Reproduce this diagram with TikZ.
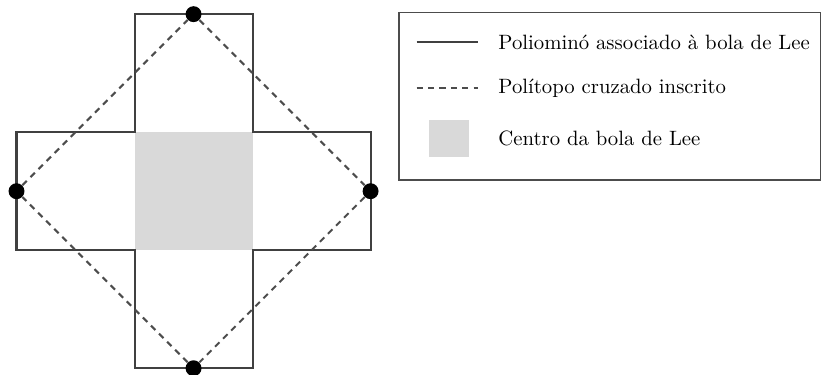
\documentclass[tikz,border=0pt]{standalone}
\usepackage{amsmath,amssymb}
\usepackage{tikz}
\usetikzlibrary{positioning}

\begin{document}
\begin{tikzpicture}[
    outline/.style={draw=black!75, line width=1pt},
    crossed/.style={draw=black!70, line width=1pt, dash pattern=on 3pt off 2.5pt},
    centre/.style={fill=black!15},
    dot/.style={circle, fill=black, inner sep=0pt, minimum size=0.27cm},
    legendtext/.style={anchor=west, inner sep=0pt}
  ]
  \useasboundingbox (-3.28,-3.10) rectangle (10.65,3.24);

  % Centre of the ball
  \fill[centre] (-1,-1) rectangle (1,1);

  % Polyomino outline
  \draw[outline] (-1,3) -- (1,3) -- (1,1) -- (3,1) -- (3,-1) -- (1,-1)
    -- (1,-3) -- (-1,-3) -- (-1,-1) -- (-3,-1) -- (-3,1) -- (-1,1) -- cycle;

  % Vertices of the cross polytope
  \node[dot] (top) at (0,3) {};
  \node[dot] (right) at (3,0) {};
  \node[dot] (bottom) at (0,-3) {};
  \node[dot] (left) at (-3,0) {};

  \draw[crossed] (top) -- (right) -- (bottom) -- (left) -- (top);

  % Legend
  \draw[draw=black!70, semithick] (3.48,0.19) rectangle (10.63,3.03);

  \coordinate (s1) at (3.78,2.53);
  \coordinate (s2) at (4.82,2.53);
  \draw[outline] (s1) -- (s2);
  \node[legendtext] (lsolid) at (5.16,2.53) {Poliominó associado à bola de Lee};

  \coordinate (d1) at (3.78,1.75);
  \coordinate (d2) at (4.82,1.75);
  \draw[crossed] (d1) -- (d2);
  \node[legendtext] (ldashed) at (5.16,1.75) {Polítopo cruzado inscrito};

  \fill[centre] (3.99,0.58) rectangle (4.67,1.20);
  \node[legendtext] (lcentre) at (5.16,0.90) {Centro da bola de Lee};
\end{tikzpicture}
\end{document}
